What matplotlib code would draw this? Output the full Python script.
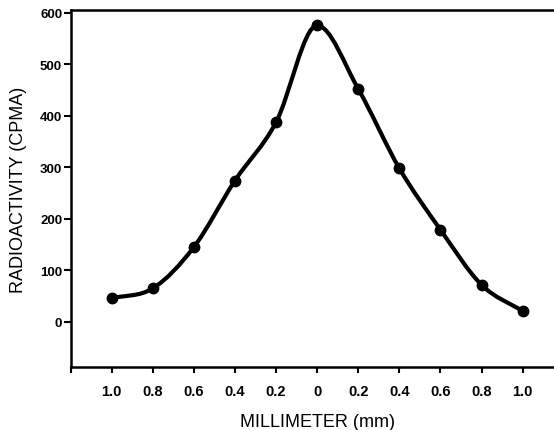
import numpy as np
import matplotlib
matplotlib.use('Agg')
import matplotlib.pyplot as plt
from matplotlib.path import Path
from matplotlib.patches import PathPatch

plt.rcParams['font.family'] = ['Liberation Sans', 'DejaVu Sans']

# Dados
posicoes = [0, 1, 2, 3, 4, 5, 6, 7, 8, 9, 10]
rotulos_x = ['1.0', '0.8', '0.6', '0.4', '0.2', '0', '0.2', '0.4', '0.6', '0.8', '1.0']
radioatividade = [46, 65, 145, 274, 387, 575, 452, 298, 179, 72, 21]
ticks_y = [0, 100, 200, 300, 400, 500, 600]

fig = plt.figure(figsize=(5.54, 4.31), dpi=100)
ax = fig.add_axes([70.5 / 554, 62.7 / 431, 493.2 / 554, 357.3 / 431])

# Curva suave (Catmull-Rom, tangente nula no pico) desenhada como Bezier pelo matplotlib
y = np.array(radioatividade, dtype=float)
d = np.diff(y)
m = np.zeros(len(y))
m[0], m[-1] = d[0], d[-1]
for i in range(1, len(y) - 1):
    if d[i - 1] * d[i] > 0:
        m[i] = (y[i + 1] - y[i - 1]) / 2

verts = [(posicoes[0], y[0])]
codes = [Path.MOVETO]
for i in range(len(y) - 1):
    x0, x1 = posicoes[i], posicoes[i + 1]
    verts += [(x0 + 1 / 3, y[i] + m[i] / 3), (x1 - 1 / 3, y[i + 1] - m[i + 1] / 3), (x1, y[i + 1])]
    codes += [Path.CURVE4] * 3
curva = PathPatch(Path(verts, codes), facecolor='none', edgecolor='black', lw=3, capstyle='round')
ax.add_patch(curva)

ax.plot(posicoes, radioatividade, 'o', color='black', markersize=7.5, zorder=3)

ax.set_xlim(-1, 11)
ax.set_ylim(-88, 605)

ax.set_xticks([-1] + posicoes)
ax.set_xticklabels([''] + rotulos_x, fontsize=10.5, fontweight='bold')
ax.set_yticks(ticks_y)
ax.set_yticklabels([str(v) for v in ticks_y], fontsize=9.5, fontweight='bold')

ax.tick_params(axis='x', direction='out', length=4, width=1.5, pad=8)
ax.tick_params(axis='y', direction='out', length=5, width=1.5, pad=1)

for lado in ['left', 'bottom', 'top']:
    ax.spines[lado].set_linewidth(1.8)
ax.spines['right'].set_visible(False)

ax.set_xlabel('MILLIMETER (mm)', fontsize=13, labelpad=11)
ax.set_ylabel('RADIOACTIVITY (CPMA)', fontsize=13, labelpad=9)

fig.savefig('out.png', dpi=100)
